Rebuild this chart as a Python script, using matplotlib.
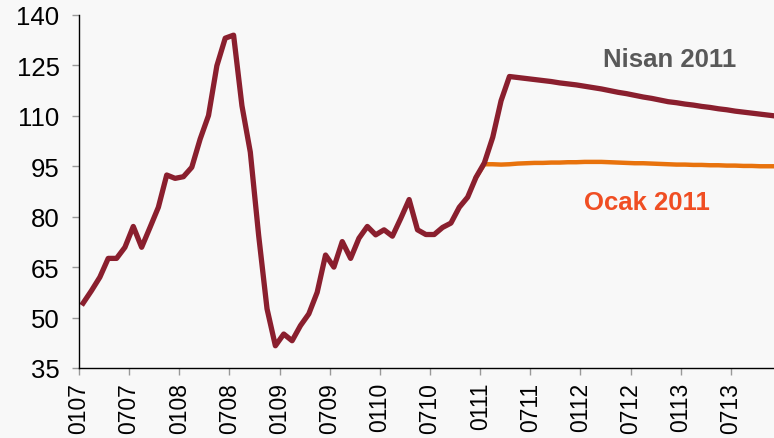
import numpy as np
import matplotlib.pyplot as plt

plt.rcParams['font.family'] = ['Liberation Sans', 'DejaVu Sans']

# monthly index, Jan 2007 .. Dec 2013
tick_labels = ['0107', '0707', '0108', '0708', '0109', '0709', '0110',
               '0710', '0111', '0711', '0112', '0712', '0113', '0713']
y_ticks = [35, 50, 65, 80, 95, 110, 125, 140]

# history + April 2011 forecast (months 0..83)
nisan = [54.3, 58.0, 62.0, 67.6, 67.6, 70.9, 77.1, 70.9, 76.8, 82.8,
         92.4, 91.4, 91.9, 94.7, 103.1, 110.1, 124.9, 133.1, 134.0, 113.0,
         99.2, 74.4, 52.6, 41.6, 45.1, 43.1, 47.6, 51.1, 57.5, 68.6,
         65.0, 72.6, 67.6, 73.6, 77.1, 74.6, 76.1, 74.2, 79.5, 85.1,
         76.1, 74.7, 74.7, 76.8, 78.1, 82.8, 85.8, 91.7, 96.0, 103.6,
         114.5, 121.7, 121.4, 121.1, 120.8, 120.5, 120.2, 119.8, 119.5, 119.2,
         118.8, 118.4, 118.0, 117.5, 117.0, 116.6, 116.1, 115.6, 115.2, 114.7,
         114.2, 113.9, 113.5, 113.2, 112.8, 112.5, 112.1, 111.8, 111.4, 111.1,
         110.8, 110.5, 110.2, 109.9]

# January 2011 forecast (months 47..83)
ocak_start = 47
ocak = [91.7, 95.6, 95.6, 95.5, 95.6, 95.8, 95.9, 96.0, 96.0, 96.1,
        96.1, 96.2, 96.2, 96.3, 96.3, 96.3, 96.2, 96.1, 96.0, 95.9,
        95.9, 95.8, 95.7, 95.6, 95.5, 95.5, 95.4, 95.4, 95.3, 95.3,
        95.2, 95.2, 95.1, 95.1, 95.0, 95.0, 95.0]

bg = '#f8f8f8'
fig = plt.figure(figsize=(7.74, 4.39), dpi=100, facecolor=bg)
ax = fig.add_axes([0.102, 0.1595, 0.898, 0.8041], facecolor=bg)

x_n = np.arange(len(nisan)) + 0.5
x_o = np.arange(ocak_start, ocak_start + len(ocak)) + 0.5

ax.plot(x_o, ocak, color='#e8720c', lw=3.2, solid_joinstyle='round')
ax.plot(x_n, nisan, color='#8a1f2e', lw=3.8, solid_joinstyle='round')

ax.text(70.7, 126.9, 'Nisan 2011', color='#595959', fontsize=18.5,
        fontweight='bold', ha='center', va='center')
ax.text(67.95, 84.4, 'Ocak 2011', color='#f04e23', fontsize=18.5,
        fontweight='bold', ha='center', va='center')

ax.set_xlim(0, 83.15)
ax.set_ylim(35, 140)
ax.set_yticks(y_ticks)
ax.set_yticklabels([str(v) for v in y_ticks], fontsize=18.5)
ax.set_xticks(np.arange(0, 6 * len(tick_labels), 6))
ax.set_xticklabels(tick_labels, rotation=90, fontsize=16.5)

ax.tick_params(axis='y', length=5, width=1, color='#999999', pad=9)
ax.tick_params(axis='x', length=5, width=1, color='#999999', pad=5)

for side in ['top', 'right']:
    ax.spines[side].set_visible(False)
for side in ['left', 'bottom']:
    ax.spines[side].set_linewidth(1)
    ax.spines[side].set_color('black')

fig.savefig('out.png', dpi=100, facecolor=bg)
